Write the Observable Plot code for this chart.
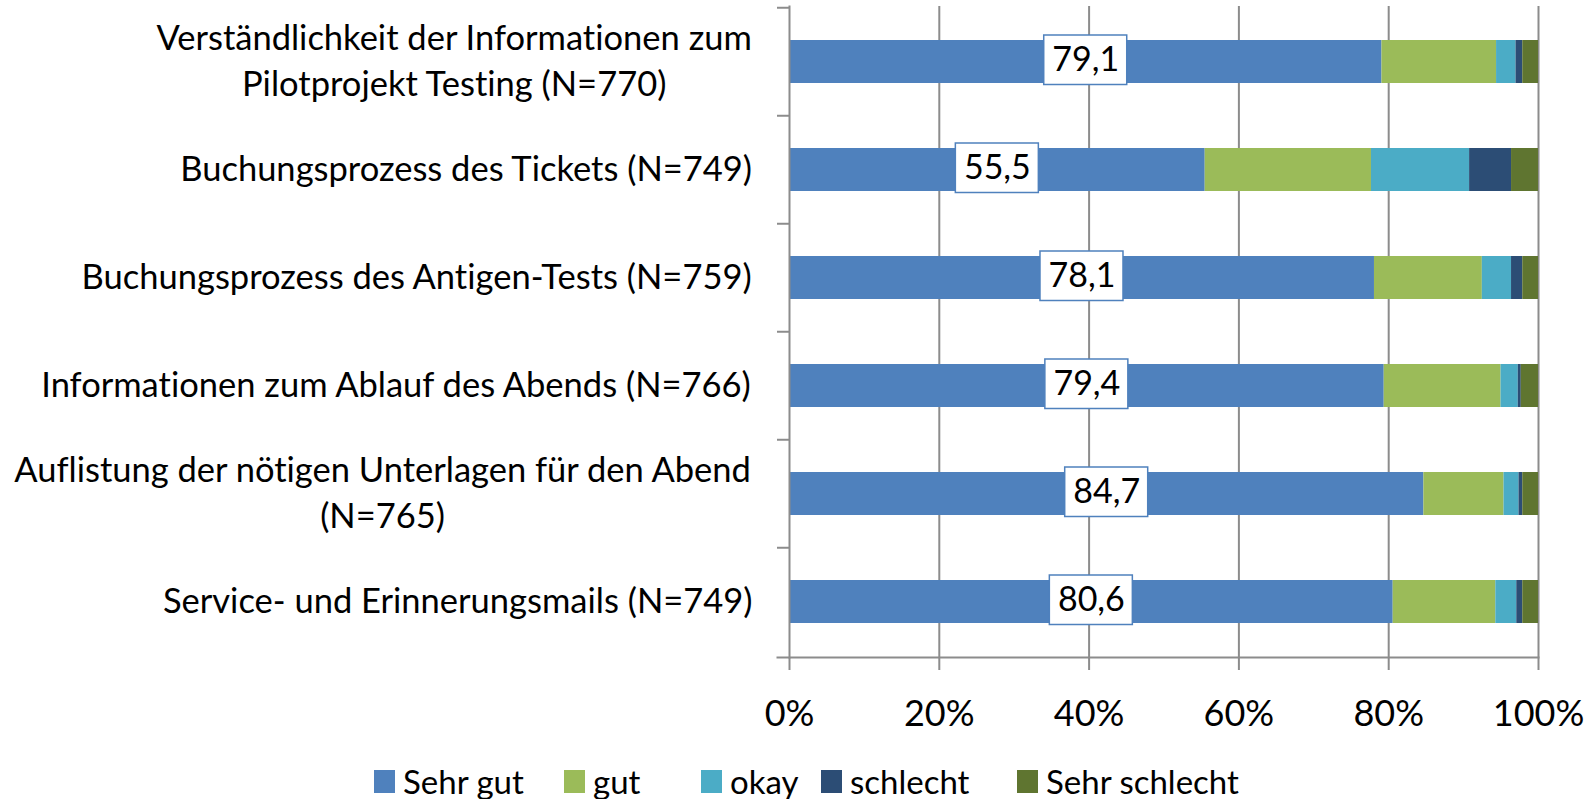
<!DOCTYPE html>
<html>
<head>
<meta charset="utf-8">
<script src="https://cdn.jsdelivr.net/npm/d3@7"></script>
<script src="https://cdn.jsdelivr.net/npm/@observablehq/plot@0.6"></script>
<style>
  html, body { margin: 0; padding: 0; background: #fff; }
  body { width: 1594px; height: 799px; position: relative; overflow: hidden; font-family: Lato, "Liberation Sans", sans-serif; }
  #chart { position: absolute; left: 0; top: 0; }
  #chart text { font-variant-ligatures: none; font-feature-settings: "liga" 0, "clig" 0; }
  #legend { position: absolute; top: 765px; left: 0; width: 1594px; height: 33px; font-size: 33px; line-height: 33px; color: #000; font-variant-ligatures: none; }
  .item { position: absolute; top: 0; display: flex; align-items: center; height: 33px; }
  .sw { width: 21px; height: 23px; margin-right: 8px; }
</style>
</head>
<body>
<div id="chart"></div>
<div id="legend"></div>
<script>
const categories = [
  "Verständlichkeit der Informationen zum\nPilotprojekt Testing (N=770)",
  "Buchungsprozess des Tickets (N=749)",
  "Buchungsprozess des Antigen-Tests (N=759)",
  "Informationen zum Ablauf des Abends (N=766)",
  "Auflistung der nötigen Unterlagen für den Abend\n(N=765)",
  "Service- und Erinnerungsmails (N=749)"
];
const responses = ["Sehr gut", "gut", "okay", "schlecht", "Sehr schlecht"];
const sehrGut      = [79.1, 55.5, 78.1, 79.4, 84.7, 80.6];
const gut          = [15.3, 22.2, 14.4, 15.6, 10.7, 13.7];
const okay         = [2.6, 13.1, 3.9, 2.3, 2.0, 2.8];
const schlecht     = [0.9, 5.6, 1.5, 0.4, 0.5, 0.8];
const sehrSchlecht = [2.1, 3.6, 2.1, 2.3, 2.1, 2.1];
const xTicks = [0, 20, 40, 60, 80, 100];
const colors = ["#4f81bd", "#9bbb59", "#4bacc6", "#2c4d75", "#5f7530"];
const legendLeft = [374, 564, 701, 821, 1017];

const series = [sehrGut, gut, okay, schlecht, sehrSchlecht];
const data = [];
categories.forEach((c, i) => {
  responses.forEach((r, j) => data.push({cat: c, resp: r, value: series[j][i]}));
});
const labels = categories.map((c, i) => ({cat: c, value: sehrGut[i]}));

const W = 1594, H = 740, mL = 789, mR = 56, mT = 6, mB = 83;
const step = (H - mT - mB) / categories.length;
const grid = "#8c8c8c";
const labelFont = 34.5;
const FONT = "Lato, 'Liberation Sans', sans-serif";

const ctx = document.createElement("canvas").getContext("2d");
ctx.font = `${labelFont}px Lato`;

const labelMarks = categories.map(c => {
  const lines = c.split("\n");
  const w = Math.max(...lines.map(l => ctx.measureText(l).width));
  return Plot.text([c], {
    y: d => d, text: d => d, frameAnchor: "left", textAnchor: "middle",
    dx: -(37 + w / 2), dy: -3.5, fontSize: labelFont, lineHeight: 1.33, fill: "#000"
  });
});

const chart = Plot.plot({
  width: W, height: H,
  marginLeft: mL, marginRight: mR, marginTop: mT, marginBottom: mB,
  style: {fontFamily: FONT, background: "#fff", color: "#000"},
  x: {domain: [0, 100], axis: null, label: null},
  y: {domain: categories, paddingInner: 0.6, paddingOuter: 0.3, axis: null},
  color: {domain: responses, range: colors},
  marks: [
    Plot.ruleX(xTicks.slice(1), {stroke: grid, strokeWidth: 2}),
    Plot.barX(data, {x: "value", y: "cat", fill: "resp", z: "resp"}),
    Plot.frame({anchor: "left", stroke: grid, strokeWidth: 2}),
    Plot.frame({anchor: "bottom", stroke: grid, strokeWidth: 2, insetLeft: -12}),
    Plot.ruleY(categories, {y: d => d, x1: 0, x2: 0, insetLeft: -12, dy: -step / 2, stroke: grid, strokeWidth: 2}),
    Plot.axisX({ticks: xTicks, tickSize: 13, text: null, label: null, stroke: grid, strokeWidth: 2}),
    Plot.axisX({ticks: xTicks, tickSize: 0, tickPadding: 43, label: null, tickFormat: d => d + "%", fontSize: 36, fill: "#000"}),
    Plot.barX(labels, {x1: d => d.value / 2, x2: d => d.value / 2, y: "cat",
      insetLeft: -41.5, insetRight: -41.5, insetTop: -5, insetBottom: -1.5,
      fill: "#fff", stroke: "#4f81bd", strokeWidth: 1.5}),
    Plot.text(labels, {x: d => d.value / 2, y: "cat", dy: -2,
      text: d => d.value.toFixed(1).replace(".", ","), fontSize: 34, fill: "#000"}),
    ...labelMarks
  ]
});
document.getElementById("chart").appendChild(chart);

const legend = document.getElementById("legend");
responses.forEach((r, j) => {
  const item = document.createElement("div");
  item.className = "item";
  item.style.left = legendLeft[j] + "px";
  const sw = document.createElement("div");
  sw.className = "sw";
  sw.style.background = colors[j];
  const t = document.createElement("span");
  t.textContent = r;
  item.appendChild(sw);
  item.appendChild(t);
  legend.appendChild(item);
});
</script>
</body>
</html>
